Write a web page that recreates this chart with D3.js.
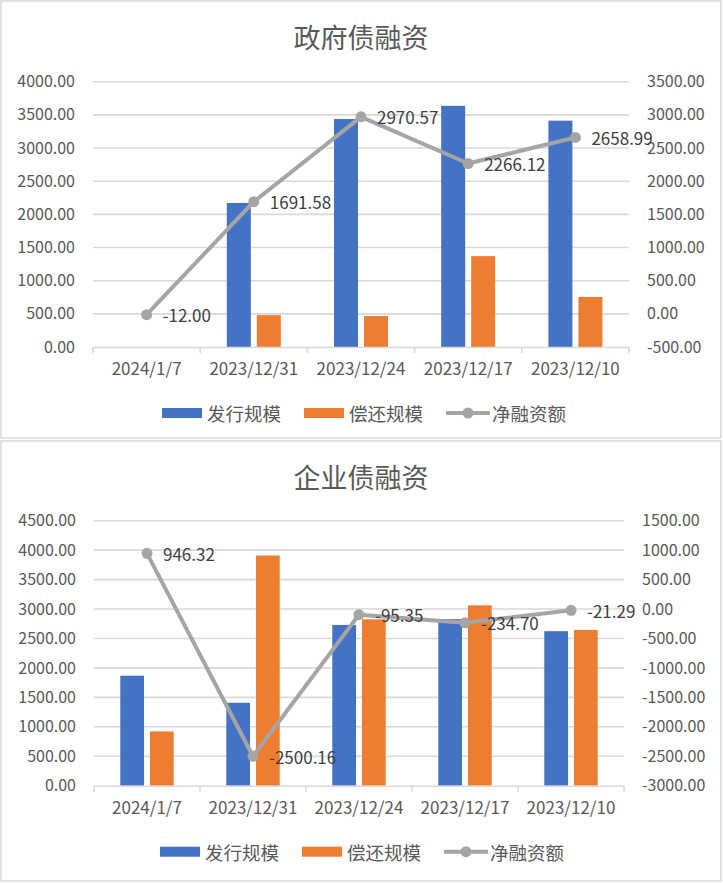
<!DOCTYPE html>
<html lang="zh">
<head>
  <meta charset="utf-8">
  <title>政府债融资 / 企业债融资</title>
  <script src="https://d3js.org/d3.v7.min.js"></script>
  <style>
    body { margin: 0; background: #fff; }
    svg text { font-family: "Noto Sans CJK SC", "Noto Sans", sans-serif; }
  </style>
</head>
<body>
<script>
// categories and series
var categories = ["2024/1/7", "2023/12/31", "2023/12/24", "2023/12/17", "2023/12/10"];
var seriesNames = ["发行规模", "偿还规模", "净融资额"];

// 政府债 (bars, net from the labels)
var govIssue = [0, 2171.6, 3437.0, 3636.0, 3413.0];
var govRepay = [0, 480.0, 466.4, 1369.9, 754.0];
var govNet = [-12.00, 1691.58, 2970.57, 2266.12, 2658.99];
var govLeftTicks = [0, 500, 1000, 1500, 2000, 2500, 3000, 3500, 4000];
var govRightTicks = [-500, 0, 500, 1000, 1500, 2000, 2500, 3000, 3500];

// 企业债
var corpIssue = [1868.0, 1408.0, 2730.0, 2828.0, 2624.0];
var corpRepay = [921.7, 3908.2, 2825.4, 3062.7, 2645.3];
var corpNet = [946.32, -2500.16, -95.35, -234.70, -21.29];
var corpLeftTicks = [0, 500, 1000, 1500, 2000, 2500, 3000, 3500, 4000, 4500];
var corpRightTicks = [-3000, -2500, -2000, -1500, -1000, -500, 0, 500, 1000, 1500];

var colors = ["#4472C4", "#ED7D31", "#A5A5A5"];
var gridColor = "#d9d9d9";
var textColor = "#595959";

// plain hyphen for negatives, like the original
var fmt = d3.formatLocale({
  decimal: ".", thousands: ",", grouping: [3], currency: ["", ""], minus: "-"
}).format(".2f");

var svg = d3.select("body").append("svg")
  .attr("width", 723)
  .attr("height", 883);

function drawPanel(p) {
  var g = svg.append("g");

  // frame
  g.append("rect")
    .attr("x", 1).attr("y", p.top)
    .attr("width", 720).attr("height", p.height)
    .attr("fill", "#fff")
    .attr("stroke", gridColor).attr("stroke-width", 1.5);

  var x = d3.scaleBand().domain(categories).range([p.left, p.right]).padding(0);
  var half = x.bandwidth() * 0.252;
  var x1 = d3.scaleBand().domain(seriesNames.slice(0, 2)).range([-half, half]).paddingInner(0.2);
  var yL = d3.scaleLinear().domain(d3.extent(p.leftTicks)).range([p.bottom, p.plotTop]);
  var yR = d3.scaleLinear().domain(d3.extent(p.rightTicks)).range([p.bottom, p.plotTop]);
  var cx = function(c) { return x(c) + x.bandwidth() / 2; };

  // title
  g.append("text")
    .attr("x", 361).attr("y", p.top + 35)
    .attr("text-anchor", "middle").attr("dominant-baseline", "central")
    .attr("font-size", 27).attr("fill", textColor)
    .text(p.title);

  // gridlines
  g.selectAll(".grid").data(p.leftTicks.slice(1)).enter().append("line")
    .attr("x1", p.left).attr("x2", p.right)
    .attr("y1", function(d) { return yL(d); })
    .attr("y2", function(d) { return yL(d); })
    .attr("stroke", gridColor).attr("stroke-width", 1.6);

  // left axis
  var left = g.append("g").attr("transform", "translate(" + p.left + ",0)")
    .call(d3.axisLeft(yL).tickValues(p.leftTicks).tickFormat(fmt).tickSize(0).tickPadding(18));
  // right axis
  var right = g.append("g").attr("transform", "translate(" + p.right + ",0)")
    .call(d3.axisRight(yR).tickValues(p.rightTicks).tickFormat(fmt).tickSize(0).tickPadding(18));
  [left, right].forEach(function(a) {
    a.select(".domain").remove();
    a.selectAll("text").attr("font-size", 16).attr("fill", textColor)
      .attr("font-family", "'Noto Sans', sans-serif");
  });

  // bars
  var rows = categories.map(function(c, i) {
    return { cat: c, vals: [p.issue[i], p.repay[i]] };
  });
  var groups = g.selectAll(".grp").data(rows).enter().append("g")
    .attr("transform", function(d) { return "translate(" + cx(d.cat) + ",0)"; });
  groups.selectAll("rect").data(function(d) {
    return d.vals.map(function(v, k) { return { name: seriesNames[k], v: v, k: k }; });
  }).enter().append("rect")
    .attr("x", function(d) { return x1(d.name); })
    .attr("width", x1.bandwidth())
    .attr("y", function(d) { return yL(d.v); })
    .attr("height", function(d) { return yL(0) - yL(d.v); })
    .attr("fill", function(d) { return colors[d.k]; });

  // x axis
  var xAxis = g.append("g").attr("transform", "translate(0," + p.bottom + ")")
    .call(d3.axisBottom(x).tickSize(0).tickPadding(16));
  xAxis.select(".domain").attr("stroke", gridColor).attr("stroke-width", 1.6);
  xAxis.selectAll("text").attr("font-size", 17).attr("fill", textColor)
    .attr("font-family", "'Noto Sans', sans-serif");
  xAxis.selectAll(".edge").data(d3.range(categories.length + 1)).enter().append("line")
    .attr("x1", function(i) { return p.left + i * x.step(); })
    .attr("x2", function(i) { return p.left + i * x.step(); })
    .attr("y1", 0).attr("y2", 6)
    .attr("stroke", gridColor).attr("stroke-width", 1.6);

  // net line
  var line = d3.line()
    .x(function(d, i) { return cx(categories[i]); })
    .y(function(d) { return yR(d); });
  g.append("path").datum(p.net)
    .attr("d", line).attr("fill", "none")
    .attr("stroke", colors[2]).attr("stroke-width", 4).attr("stroke-linejoin", "round");
  g.selectAll(".dot").data(p.net).enter().append("circle")
    .attr("cx", function(d, i) { return cx(categories[i]); })
    .attr("cy", function(d) { return yR(d); })
    .attr("r", 5.5).attr("fill", colors[2]);
  g.selectAll(".lbl").data(p.net).enter().append("text")
    .attr("x", function(d, i) { return cx(categories[i]) + 16; })
    .attr("y", function(d) { return yR(d); })
    .attr("dominant-baseline", "central")
    .attr("font-size", 17).attr("fill", "#404040")
    .attr("font-family", "'Noto Sans', sans-serif")
    .text(function(d) { return fmt(d); });

  // legend
  var ly = p.bottom + 66;
  var lx = (p.left + p.right) / 2 - 199;
  var leg = g.append("g");
  seriesNames.forEach(function(name, k) {
    if (k < 2) {
      leg.append("rect").attr("x", lx).attr("y", ly - 5).attr("width", 40).attr("height", 10)
        .attr("fill", colors[k]);
      lx += 45;
    } else {
      leg.append("line").attr("x1", lx).attr("x2", lx + 44).attr("y1", ly).attr("y2", ly)
        .attr("stroke", colors[2]).attr("stroke-width", 4);
      leg.append("circle").attr("cx", lx + 22).attr("cy", ly).attr("r", 5.5).attr("fill", colors[2]);
      lx += 46;
    }
    var t = leg.append("text").attr("x", lx).attr("y", ly)
      .attr("dominant-baseline", "central")
      .attr("font-size", 18.5).attr("fill", textColor)
      .text(name);
    lx += t.node().getComputedTextLength() + 23;
  });
}

drawPanel({
  title: "政府债融资", top: 1, height: 437,
  left: 93, right: 629, plotTop: 81.7, bottom: 347,
  issue: govIssue, repay: govRepay, net: govNet,
  leftTicks: govLeftTicks, rightTicks: govRightTicks
});

drawPanel({
  title: "企业债融资", top: 441, height: 440,
  left: 94, right: 624, plotTop: 520.7, bottom: 785.7,
  issue: corpIssue, repay: corpRepay, net: corpNet,
  leftTicks: corpLeftTicks, rightTicks: corpRightTicks
});
</script>
</body>
</html>
